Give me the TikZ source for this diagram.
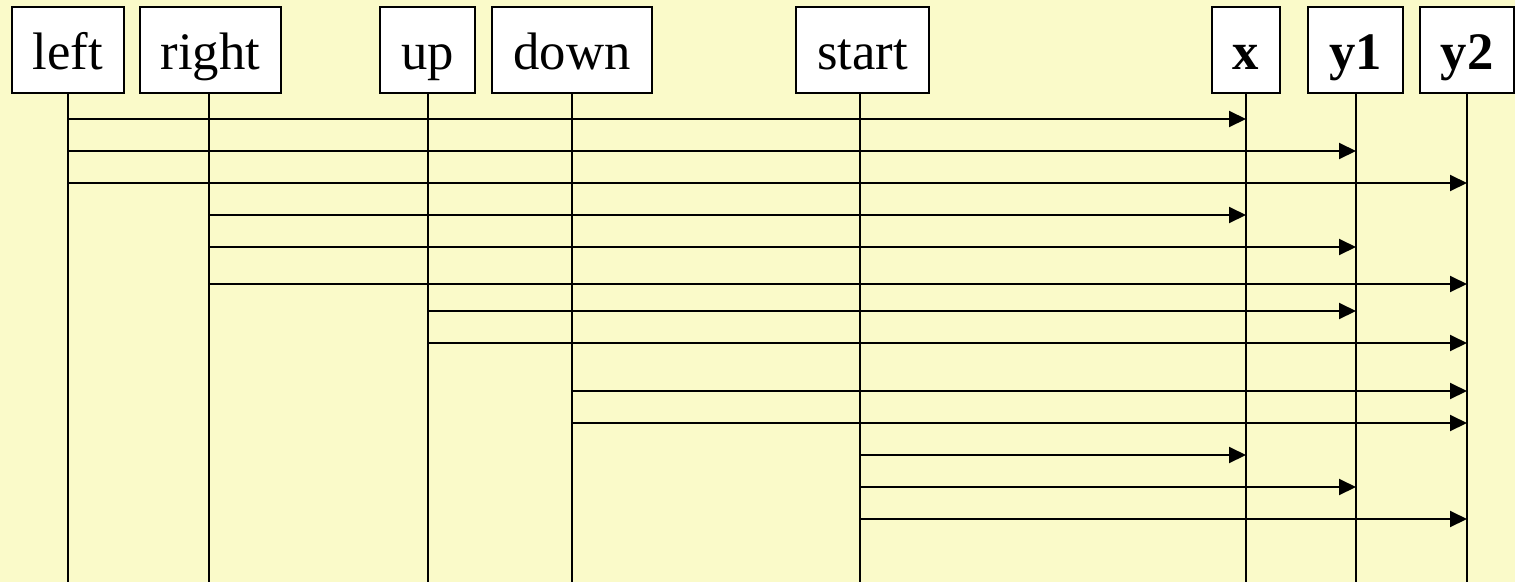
\documentclass[tikz,border=0pt]{standalone}
\usepackage{fontspec}
\setmainfont{Liberation Serif}
\usetikzlibrary{arrows.meta}
\definecolor{notepaper}{HTML}{FAFAC9}

\begin{document}
\begin{tikzpicture}[
    x=0.02cm, y=-0.02cm,
    every node/.style={font=\fontsize{30}{36}\selectfont},
    actor/.style={
        draw, fill=white, line width=1.1pt, inner sep=0pt,
        minimum width=#1, minimum height=1.72cm,
        text height=1cm, text depth=0.2cm
    },
    lifeline/.style={line width=1.1pt},
    msg/.style={-{Triangle[length=0.34cm,width=0.32cm]}, line width=1.1pt},
]

% === Background ===
\fill[notepaper] (0,0) rectangle (1515,582);
\useasboundingbox (0,0) rectangle (1515,582);

% === Actors (top row) ===
\node[actor=2.24cm] (left) at (68,50) {left};
\node[actor=2.82cm] (right) at (210.5,50) {right};
\node[actor=1.9cm] (up) at (427.5,50) {up};
\node[actor=3.2cm] (down) at (572,50) {down};
\node[actor=2.66cm] (start) at (862.5,50) {start};
\node[actor=1.36cm] (x) at (1246,50) {\textbf{x}};
\node[actor=1.9cm] (y1) at (1355.5,50) {\textbf{y1}};
\node[actor=1.88cm] (y2) at (1467,50) {\textbf{y2}};

% Lifeline foot points
\coordinate (rightl) at ([xshift=-0.03cm]right.south);
\coordinate (upl) at ([xshift=0.01cm]up.south);
\coordinate (startl) at ([xshift=-0.05cm]start.south);
\coordinate (y1l) at ([xshift=0.01cm]y1.south);

% Lifelines
\draw[lifeline] (left.south) -- (left.south |- 0,582);
\draw[lifeline] (rightl) -- (rightl |- 0,582);
\draw[lifeline] (upl) -- (upl |- 0,582);
\draw[lifeline] (down.south) -- (down.south |- 0,582);
\draw[lifeline] (startl) -- (startl |- 0,582);
\draw[lifeline] (x.south) -- (x.south |- 0,582);
\draw[lifeline] (y1l) -- (y1l |- 0,582);
\draw[lifeline] (y2.south) -- (y2.south |- 0,582);

% === Messages ===
\draw[msg] (left |- 0,119) -- (x |- 0,119);
\draw[msg] (left |- 0,151) -- (y1l |- 0,151);
\draw[msg] (left |- 0,183) -- (y2 |- 0,183);

\draw[msg] (rightl |- 0,215) -- (x |- 0,215);
\draw[msg] (rightl |- 0,247) -- (y1l |- 0,247);
\draw[msg] (rightl |- 0,284) -- (y2 |- 0,284);

\draw[msg] (upl |- 0,311) -- (y1l |- 0,311);
\draw[msg] (upl |- 0,343) -- (y2 |- 0,343);

\draw[msg] (down |- 0,391) -- (y2 |- 0,391);
\draw[msg] (down |- 0,423) -- (y2 |- 0,423);

\draw[msg] (startl |- 0,455) -- (x |- 0,455);
\draw[msg] (startl |- 0,487) -- (y1l |- 0,487);
\draw[msg] (startl |- 0,519) -- (y2 |- 0,519);

\end{tikzpicture}
\end{document}
